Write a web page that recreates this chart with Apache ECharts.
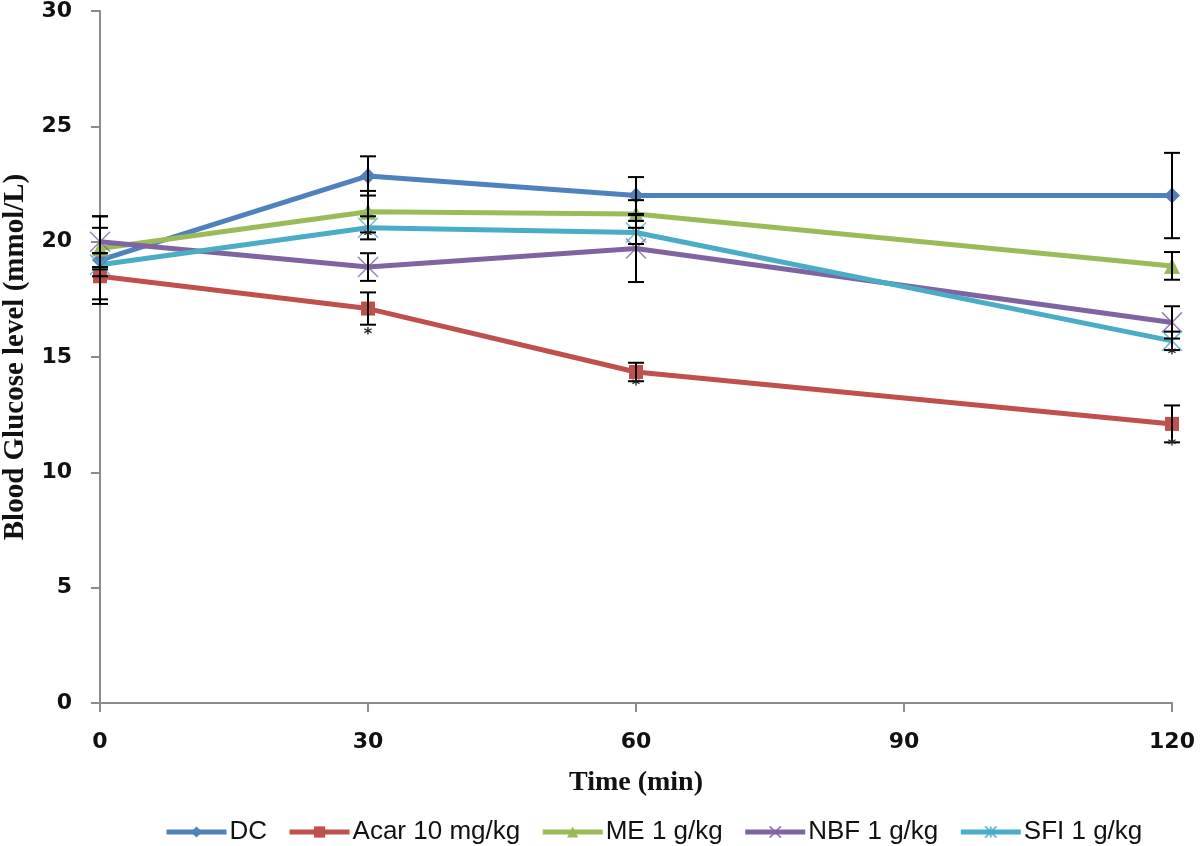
<!DOCTYPE html>
<html><head><meta charset="utf-8">
<script src="https://cdn.jsdelivr.net/npm/echarts@6/dist/echarts.min.js"></script>
<style>html,body{margin:0;padding:0;background:#fff}#c{width:1200px;height:846px}</style>
</head><body><div id="c"></div>
<script>
const times = [0, 30, 60, 120];
const xTicks = [0, 30, 60, 90, 120];
const seriesNames = ['DC', 'Acar 10 mg/kg', 'ME 1 g/kg', 'NBF 1 g/kg', 'SFI 1 g/kg'];
const dcValues   = [19.2, 22.85, 22.0, 22.0];
const acarValues = [18.5, 17.1, 14.35, 12.1];
const meValues   = [19.7, 21.3, 21.2, 18.95];
const nbfValues  = [20.0, 18.9, 19.7, 16.5];
const sfiValues  = [19.0, 20.6, 20.4, 15.7];
const dcErr   = [1.9, 0.85, 0.8, 1.85];
const acarErr = [1.0, 0.7, 0.4, 0.8];
const meErr   = [0.9, 0.9, 0.6, 0.6];
const nbfErr  = [1.1, 0.6, 1.45, 0.7];
const sfiErr  = [0.5, 0.5, 0.5, 0.4];
// significance marks: [time, value]
const starMarks = [[30, 15.95], [30, 20.2], [60, 13.75], [120, 11.15], [120, 15.1]];

const colors = ['#4F81BD', '#C0504D', '#9BBB59', '#8064A2', '#4BACC6'];
const allValues = [dcValues, acarValues, meValues, nbfValues, sfiValues];
const allErr = [dcErr, acarErr, meErr, nbfErr, sfiErr];
const symbols = ['diamond', 'rect', 'triangle',
  'path://M0,0L10,10M10,0L0,10',
  'path://M0,0L10,10M10,0L0,10M5,0L5,10'];

const chart = echarts.init(document.getElementById('c'), null, {renderer: 'canvas'});

const lineSeries = seriesNames.map((name, i) => {
  const isPath = i >= 3;
  return {
    name: name, type: 'line',
    data: times.map((t, k) => [t, allValues[i][k]]),
    symbol: symbols[i],
    symbolSize: i === 1 ? 14 : (isPath ? 20 : 16),
    lineStyle: {color: colors[i], width: 5},
    itemStyle: isPath ? {color: 'rgba(0,0,0,0)', borderColor: colors[i], borderWidth: 1.5, opacity: 0.8}
                      : {color: colors[i], borderColor: colors[i], borderWidth: 0},
    z: 2
  };
});

const errData = [];
seriesNames.forEach((n, i) => times.forEach((t, k) => errData.push([t, allValues[i][k] - allErr[i][k], allValues[i][k] + allErr[i][k]])));

const errSeries = {
  type: 'custom', name: 'err', silent: true, z: 5,
  data: errData,
  renderItem: function (params, api) {
    const x = api.value(0);
    const lo = api.coord([x, api.value(1)]);
    const hi = api.coord([x, api.value(2)]);
    const w = 8;
    const st = {stroke: '#000', lineWidth: 2};
    return {type: 'group', children: [
      {type: 'line', shape: {x1: lo[0], y1: lo[1], x2: hi[0], y2: hi[1]}, style: st},
      {type: 'line', shape: {x1: lo[0]-w, y1: lo[1], x2: lo[0]+w, y2: lo[1]}, style: st},
      {type: 'line', shape: {x1: hi[0]-w, y1: hi[1], x2: hi[0]+w, y2: hi[1]}, style: st}
    ]};
  },
  encode: {x: 0, y: [1, 2]}
};

const starSeries = {
  type: 'custom', name: 'stars', silent: true, z: 6,
  data: starMarks,
  renderItem: function (params, api) {
    const p = api.coord([api.value(0), api.value(1)]);
    return {type: 'text', style: {text: '*', x: p[0], y: p[1], align: 'center', verticalAlign: 'middle',
      font: 'bold 16px "DejaVu Sans"', fill: '#222'}};
  },
  encode: {x: 0, y: 1}
};

chart.setOption({
  animation: false,
  color: colors,
  grid: {left: 100, right: 28, top: 11, bottom: 143, containLabel: false, outerBoundsMode: 'none'},
  legend: {
    data: seriesNames, top: 814, left: 159,
    itemWidth: 60, itemHeight: 14, itemGap: 20,
    lineStyle: {width: 5},
    textStyle: {fontFamily: '"Liberation Sans", sans-serif', fontSize: 26, color: '#111', padding: [0, 0, 0, -2]}
  },
  xAxis: {
    type: 'value', min: 0, max: 120, interval: 30,
    name: 'Time (min)', nameLocation: 'middle', nameGap: 66,
    nameTextStyle: {fontFamily: '"Liberation Serif", serif', fontWeight: 'bold', fontSize: 28, color: '#111'},
    axisLine: {show: true, lineStyle: {color: '#8c8c8c', width: 2}},
    axisTick: {show: true, length: 9, inside: false, lineStyle: {color: '#8c8c8c', width: 2}},
    axisLabel: {margin: 28, fontFamily: '"DejaVu Sans", sans-serif', fontWeight: 'bold', fontSize: 22, color: '#111'},
    splitLine: {show: false}
  },
  yAxis: {
    type: 'value', min: 0, max: 30, interval: 5,
    name: 'Blood Glucose level (mmol/L)', nameLocation: 'middle', nameGap: 70, nameRotate: 90,
    nameTextStyle: {fontFamily: '"Liberation Serif", serif', fontWeight: 'bold', fontSize: 29, color: '#111'},
    axisLine: {show: true, lineStyle: {color: '#8c8c8c', width: 2}},
    axisTick: {show: true, length: 9, lineStyle: {color: '#8c8c8c', width: 2}},
    axisLabel: {margin: 28, fontFamily: '"DejaVu Sans", sans-serif', fontWeight: 'bold', fontSize: 22, color: '#111'},
    splitLine: {show: false}
  },
  series: lineSeries.concat([errSeries, starSeries])
});
</script>
</body></html>
